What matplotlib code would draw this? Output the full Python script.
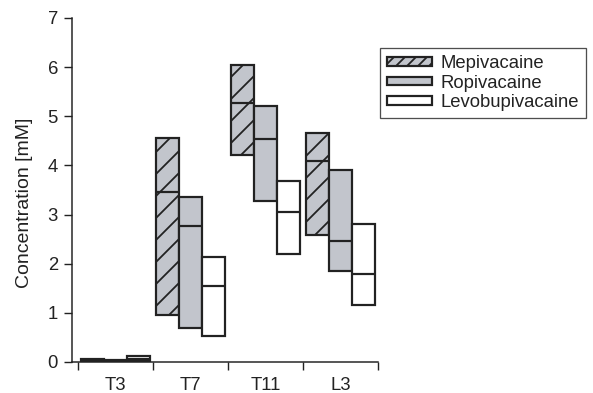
import matplotlib
matplotlib.use("Agg")
import matplotlib.pyplot as plt
from matplotlib.patches import Patch
import numpy as np

DPI = 132
def px(v):
    return v * 72.0 / DPI

categories = ["T3", "T7", "T11", "L3"]
series = ["Mepivacaine", "Ropivacaine", "Levobupivacaine"]

mepi_low = [0.0, 0.96, 4.21, 2.59]
mepi_med = [0.03, 3.46, 5.27, 4.10]
mepi_high = [0.06, 4.56, 6.05, 4.66]

ropi_low = [0.0, 0.69, 3.28, 1.85]
ropi_med = [0.03, 2.77, 4.54, 2.46]
ropi_high = [0.05, 3.36, 5.21, 3.91]

levo_low = [0.02, 0.53, 2.20, 1.16]
levo_med = [0.07, 1.55, 3.05, 1.79]
levo_high = [0.12, 2.14, 3.69, 2.81]

lows = [mepi_low, ropi_low, levo_low]
meds = [mepi_med, ropi_med, levo_med]
highs = [mepi_high, ropi_high, levo_high]

plt.rcParams['font.family'] = ['Liberation Sans', 'DejaVu Sans']
plt.rcParams['hatch.linewidth'] = px(1.8)
plt.rcParams['hatch.color'] = '#222222'

FS = px(18.5)

fig = plt.figure(figsize=(593 / DPI, 393 / DPI), dpi=DPI)
ax = fig.add_axes([72 / 593, 31 / 393, (378 - 72) / 593, (362 - 18) / 393])

edge = '#222222'
faces = ['#c2c5cc', '#c2c5cc', 'white']
hatches = ['//', None, None]
leg_hatches = ['////', None, None]
w = 0.307
lw = px(2.2)
x = np.arange(len(categories))
handles = []
for i in range(3):
    xi = x + (i - 1) * w
    h = np.array(highs[i]) - np.array(lows[i])
    ax.bar(xi, h, bottom=lows[i], width=w, facecolor=faces[i],
           edgecolor=edge, linewidth=lw, hatch=hatches[i], label=series[i], zorder=2)
    ax.hlines(meds[i], xi - w / 2, xi + w / 2, colors=edge, linewidth=lw, zorder=3)
    handles.append(Patch(facecolor=faces[i], edgecolor=edge, linewidth=lw, hatch=leg_hatches[i]))

ax.set_xlim(-0.58, 3.5)
ax.set_ylim(0, 7)
ax.set_yticks(range(0, 8))
ax.set_xticks([-0.5, 0.5, 1.5, 2.5, 3.5])
ax.set_xticklabels([])
ax.set_xticks(x, minor=True)
ax.set_xticklabels(categories, minor=True)
ax.tick_params(axis='x', which='minor', length=0, pad=px(15), labelsize=FS, colors='#222222')
ax.tick_params(axis='x', which='major', length=px(8), width=px(1.4), color='#222222')
ax.tick_params(axis='y', length=px(8), width=px(1.4), pad=px(6), labelsize=FS, colors='#222222')
for s in ['top', 'right']:
    ax.spines[s].set_visible(False)
for s in ['left', 'bottom']:
    ax.spines[s].set_linewidth(px(1.5))
    ax.spines[s].set_color('#222222')

ax.set_ylabel("Concentration [mM]", fontsize=px(19.5), color='#222222', va='center')
ax.yaxis.set_label_coords((25 - 72) / 306, (362 - 203) / 344)

leg = fig.legend(handles=handles, labels=series, loc='upper left',
                 bbox_to_anchor=(380 / 593, 1 - 48 / 393), bbox_transform=fig.transFigure,
                 fontsize=FS, frameon=True, fancybox=False, borderaxespad=0,
                 handlelength=2.43, handleheight=0.35, handletextpad=0.43,
                 labelspacing=0.12, borderpad=0.4)
leg.get_frame().set_edgecolor('#222222')
leg.get_frame().set_linewidth(px(1.3))
for t in leg.get_texts():
    t.set_color('#222222')

fig.savefig("out.png", dpi=DPI)
